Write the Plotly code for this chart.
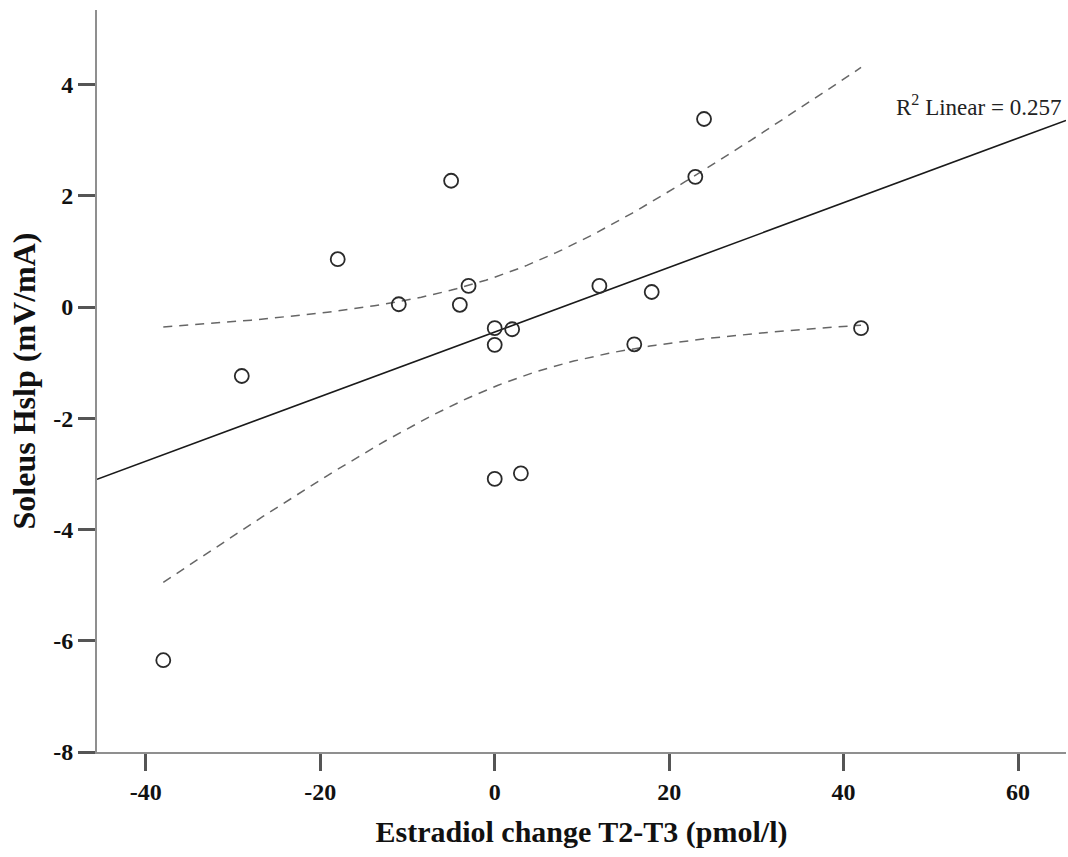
import numpy as np
import plotly.graph_objects as go

# Estradiol change T2-T3 (pmol/l) and Soleus Hslp (mV/mA)
estradiol_change = [-38, -29, -18, -11, -5, -4, -3, 0, 0, 0, 2, 3, 12, 16, 18, 23, 24, 42]
soleus_hslp = [-6.35, -1.24, 0.86, 0.05, 2.27, 0.04, 0.38, -0.38, -0.68, -3.09,
               -0.40, -2.99, 0.38, -0.67, 0.27, 2.34, 3.38, -0.38]

x_ticks = [-40, -20, 0, 20, 40, 60]
x_tick_text = ["-40", "-20", "0", "20", "40", "60"]
y_ticks = [-8, -6, -4, -2, 0, 2, 4]
y_tick_text = ["-8", "-6", "-4", "-2", "0", "2", "4"]
x_range = [-45.6, 65.5]
y_range = [-8, 5.34]
r2_label = 0.257

T_CRIT = 2.120  # two-sided 95%, df = n - 2 = 16

x = np.array(estradiol_change, dtype=float)
y = np.array(soleus_hslp, dtype=float)
n = len(x)
slope, intercept = np.polyfit(x, y, 1)
resid = y - (slope * x + intercept)
s = np.sqrt(np.sum(resid ** 2) / (n - 2))
sxx = np.sum((x - x.mean()) ** 2)

# fit line spans the whole axis, confidence band spans the data
line_x = np.array(x_range)
line_y = slope * line_x + intercept
band_x = np.linspace(x.min(), x.max(), 120)
band_fit = slope * band_x + intercept
half = T_CRIT * s * np.sqrt(1.0 / n + (band_x - x.mean()) ** 2 / sxx)

fig = go.Figure()
fig.add_trace(go.Scatter(x=line_x, y=line_y, mode="lines",
                         line=dict(color="#1a1a1a", width=1.6), hoverinfo="skip"))
for sign in (1, -1):
    fig.add_trace(go.Scatter(x=band_x, y=band_fit + sign * half, mode="lines",
                             line=dict(color="#666666", width=1.5, dash="9px,7px"),
                             hoverinfo="skip"))
fig.add_trace(go.Scatter(x=x, y=y, mode="markers",
                         marker=dict(symbol="circle-open", size=14, color="#2a2a2a",
                                     line=dict(width=1.8, color="#2a2a2a"))))

serif = "Liberation Serif, Times New Roman, serif"
axis_common = dict(showgrid=False, zeroline=False, showline=True, linecolor="#8f8f8f",
                   linewidth=2, ticks="outside", ticklen=17, tickwidth=2.5, tickcolor="#555555",
                   tickfont=dict(family=serif, size=24, color="#111111", weight="bold"))

fig.update_layout(
    width=1068, height=857,
    margin=dict(l=97, r=2, t=10, b=105),
    paper_bgcolor="white", plot_bgcolor="white",
    showlegend=False,
    xaxis=dict(range=x_range, tickvals=x_ticks, ticktext=x_tick_text, **axis_common,
               title=dict(text="Estradiol change T2-T3 (pmol/l)", standoff=17,
                          font=dict(family=serif, size=30, color="#111111", weight="bold"))),
    yaxis=dict(range=y_range, tickvals=y_ticks, ticktext=y_tick_text, **axis_common,
               title=dict(text="Soleus Hslp (mV/mA)", standoff=8,
                          font=dict(family=serif, size=32, color="#111111", weight="bold"))),
    annotations=[dict(x=0.997, xref="paper", y=3.63, yref="y", xanchor="right", yanchor="middle",
                      text="R<sup>2</sup> Linear = %.3f" % r2_label, showarrow=False,
                      font=dict(family=serif, size=23, color="#222222"))],
)

fig.write_html("out.html")
